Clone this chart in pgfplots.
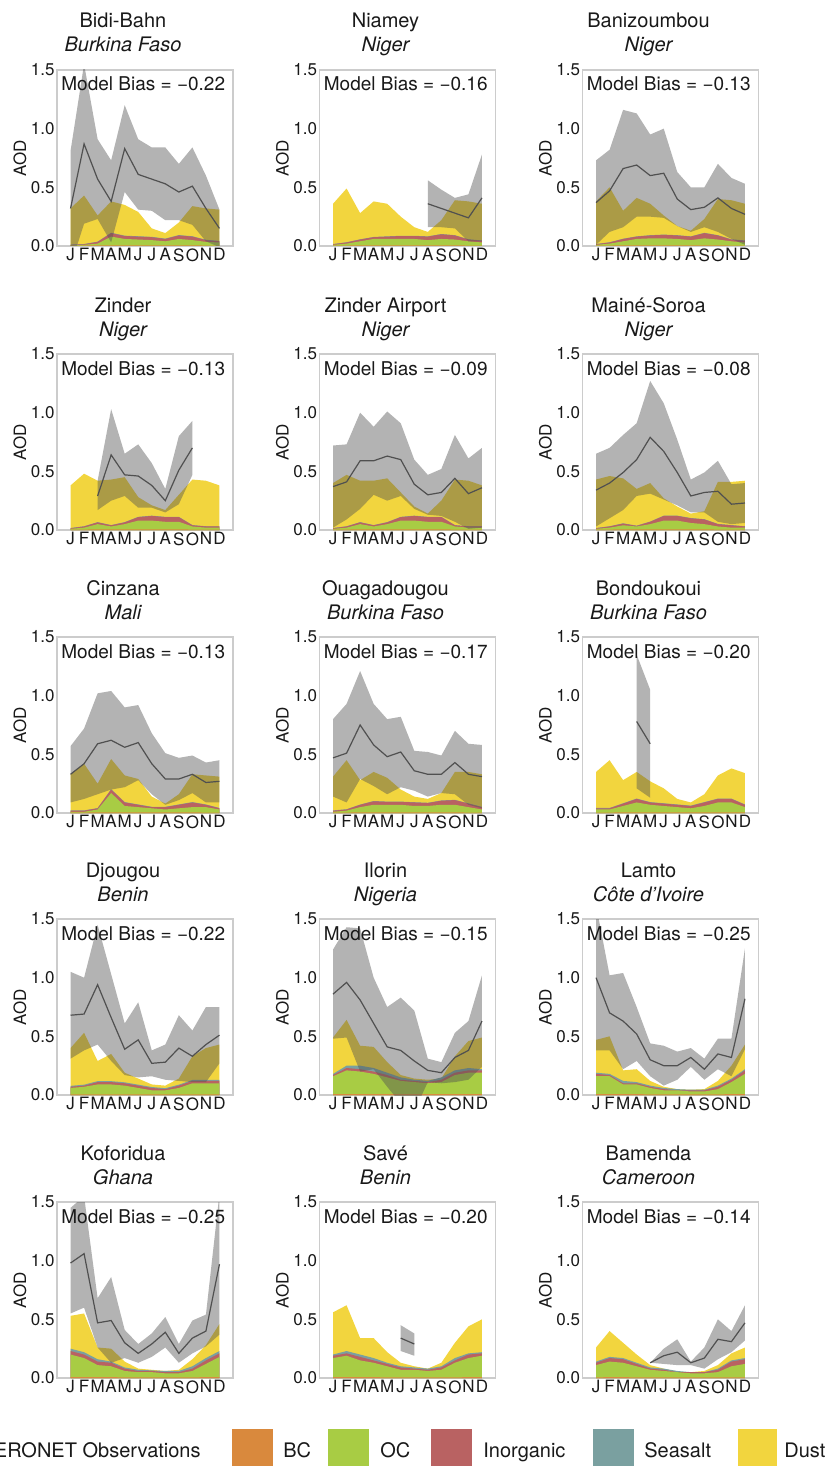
\documentclass[border=0pt]{standalone}
\usepackage{fontspec}
\setmainfont{TeX Gyre Heros}
\usepackage{pgfplots}
\usepackage{pgfplotstable}
\pgfplotsset{compat=1.18}

\definecolor{bcc}{RGB}{217,137,61}
\definecolor{occ}{RGB}{168,204,68}
\definecolor{inorgc}{RGB}{185,98,98}
\definecolor{saltc}{RGB}{122,160,160}
\definecolor{dustc}{RGB}{242,213,62}
\definecolor{bandc}{RGB}{81,81,81}
\definecolor{linec}{RGB}{80,80,80}
\definecolor{framec}{RGB}{204,204,204}
\definecolor{txt}{RGB}{25,25,25}

\newcommand\ticksize{\fontsize{8.5}{10}\selectfont}
\newcommand\titlesize{\fontsize{10}{12}\selectfont}
\newcommand\biassize{\fontsize{9.5}{11}\selectfont}
\newcommand\legsize{\fontsize{10}{12}\selectfont}

% Model components as cumulative tops: m bc oc in ss du
% AERONET: monthly mean (m mean) and the mean +/- sd band as a closed outline (m v)

% ---- Bidi-Bahn ----
\pgfplotstableread{
m bc oc in ss du
0 0.003 0.005 0.010 0.012 0.32
1 0.004 0.010 0.015 0.017 0.43
2 0.005 0.020 0.035 0.037 0.26
3 0.006 0.080 0.110 0.113 0.38
4 0.006 0.060 0.085 0.088 0.35
5 0.005 0.055 0.080 0.083 0.29
6 0.005 0.050 0.075 0.078 0.15
7 0.005 0.040 0.060 0.063 0.11
8 0.005 0.060 0.090 0.093 0.20
9 0.005 0.050 0.080 0.083 0.34
10 0.004 0.035 0.050 0.053 0.32
11 0.004 0.030 0.040 0.043 0.31
}\modA
\pgfplotstableread{
m mean
0 0.32
1 0.87
2 0.57
3 0.38
4 0.83
5 0.61
6 0.57
7 0.53
8 0.46
9 0.51
10 0.32
11 0.15
}\obsA
\pgfplotstableread{
m v
0 0.81
1 1.55
2 0.91
3 0.73
4 1.20
5 0.91
6 0.84
7 0.84
8 0.70
9 0.84
10 0.60
11 0.31
11 -0.01
10 0.04
9 0.18
8 0.22
7 0.22
6 0.30
5 0.31
4 0.46
3 0.03
2 0.23
1 0.19
0 -0.17
}\bandA

% ---- Niamey ----
\pgfplotstableread{
m bc oc in ss du
0 0.003 0.010 0.015 0.017 0.36
1 0.004 0.020 0.030 0.032 0.49
2 0.005 0.040 0.055 0.057 0.28
3 0.005 0.060 0.075 0.077 0.38
4 0.005 0.060 0.080 0.082 0.36
5 0.005 0.060 0.085 0.087 0.25
6 0.005 0.060 0.085 0.087 0.16
7 0.005 0.050 0.080 0.082 0.12
8 0.005 0.060 0.100 0.102 0.22
9 0.005 0.055 0.090 0.092 0.39
10 0.004 0.040 0.055 0.057 0.38
11 0.004 0.030 0.045 0.047 0.36
}\modB
\pgfplotstableread{
m mean
7 0.36
8 0.32
9 0.28
10 0.24
11 0.41
}\obsB
\pgfplotstableread{
m v
7 0.56
8 0.48
9 0.41
10 0.44
11 0.78
11 0.04
10 0.04
9 0.15
8 0.16
7 0.16
}\bandB

% ---- Banizoumbou ----
\pgfplotstableread{
m bc oc in ss du
0 0.003 0.010 0.015 0.017 0.38
1 0.004 0.020 0.030 0.032 0.50
2 0.005 0.040 0.060 0.062 0.30
3 0.005 0.060 0.080 0.082 0.41
4 0.005 0.065 0.090 0.092 0.36
5 0.005 0.065 0.095 0.097 0.26
6 0.005 0.060 0.090 0.092 0.17
7 0.005 0.050 0.080 0.082 0.13
8 0.005 0.065 0.110 0.112 0.23
9 0.005 0.055 0.090 0.092 0.40
10 0.004 0.040 0.055 0.057 0.39
11 0.004 0.030 0.045 0.047 0.36
}\modC
\pgfplotstableread{
m mean
0 0.37
1 0.47
2 0.66
3 0.69
4 0.60
5 0.62
6 0.40
7 0.31
8 0.33
9 0.41
10 0.32
11 0.27
}\obsC
\pgfplotstableread{
m v
0 0.73
1 0.82
2 1.16
3 1.13
4 0.95
5 1.00
6 0.63
7 0.50
8 0.50
9 0.70
10 0.58
11 0.53
11 0.01
10 0.06
9 0.12
8 0.16
7 0.12
6 0.17
5 0.24
4 0.25
3 0.25
2 0.16
1 0.12
0 0.01
}\bandC

% ---- Zinder ----
\pgfplotstableread{
m bc oc in ss du
0 0.003 0.010 0.015 0.017 0.38
1 0.004 0.020 0.030 0.032 0.48
2 0.005 0.050 0.065 0.067 0.42
3 0.005 0.030 0.040 0.042 0.43
4 0.005 0.050 0.065 0.067 0.45
5 0.005 0.080 0.110 0.112 0.28
6 0.005 0.080 0.120 0.122 0.21
7 0.005 0.070 0.110 0.112 0.17
8 0.005 0.070 0.110 0.112 0.30
9 0.004 0.030 0.040 0.042 0.43
10 0.004 0.020 0.030 0.032 0.42
11 0.004 0.020 0.030 0.032 0.38
}\modD
\pgfplotstableread{
m mean
2 0.29
3 0.64
4 0.47
5 0.46
6 0.38
7 0.25
8 0.51
9 0.70
}\obsD
\pgfplotstableread{
m v
2 0.42
3 1.03
4 0.65
5 0.73
6 0.57
7 0.35
8 0.80
9 0.93
9 0.47
8 0.22
7 0.15
6 0.19
5 0.19
4 0.29
3 0.25
2 0.17
}\bandD

% ---- Zinder Airport ----
\pgfplotstableread{
m bc oc in ss du
0 0.003 0.010 0.015 0.017 0.40
1 0.004 0.020 0.030 0.032 0.47
2 0.005 0.050 0.065 0.067 0.42
3 0.005 0.030 0.040 0.042 0.42
4 0.005 0.050 0.065 0.067 0.44
5 0.005 0.080 0.110 0.112 0.32
6 0.005 0.080 0.120 0.122 0.20
7 0.005 0.070 0.110 0.112 0.14
8 0.005 0.070 0.110 0.112 0.25
9 0.004 0.030 0.040 0.042 0.43
10 0.004 0.020 0.030 0.032 0.42
11 0.004 0.020 0.030 0.032 0.38
}\modE
\pgfplotstableread{
m mean
0 0.37
1 0.41
2 0.59
3 0.59
4 0.63
5 0.60
6 0.39
7 0.30
8 0.32
9 0.44
10 0.31
11 0.36
}\obsE
\pgfplotstableread{
m v
0 0.72
1 0.73
2 1.00
3 0.88
4 1.01
5 0.91
6 0.60
7 0.47
8 0.52
9 0.81
10 0.61
11 0.70
11 0.02
10 0.01
9 0.07
8 0.12
7 0.13
6 0.18
5 0.29
4 0.25
3 0.30
2 0.18
1 0.09
0 0.02
}\bandE

% ---- Maine-Soroa ----
\pgfplotstableread{
m bc oc in ss du
0 0.003 0.010 0.015 0.017 0.43
1 0.004 0.020 0.030 0.032 0.46
2 0.005 0.040 0.055 0.057 0.44
3 0.005 0.030 0.035 0.037 0.35
4 0.005 0.050 0.070 0.072 0.40
5 0.005 0.080 0.120 0.122 0.27
6 0.005 0.080 0.120 0.122 0.20
7 0.005 0.060 0.100 0.102 0.14
8 0.005 0.050 0.090 0.092 0.16
9 0.004 0.030 0.050 0.052 0.41
10 0.004 0.020 0.040 0.042 0.41
11 0.004 0.020 0.030 0.032 0.42
}\modF
\pgfplotstableread{
m mean
0 0.34
1 0.40
2 0.49
3 0.60
4 0.79
5 0.67
6 0.49
7 0.29
8 0.32
9 0.33
10 0.22
11 0.23
}\obsF
\pgfplotstableread{
m v
0 0.65
1 0.70
2 0.81
3 0.91
4 1.27
5 1.08
6 0.77
7 0.43
8 0.49
9 0.59
10 0.39
11 0.40
11 0.06
10 0.05
9 0.07
8 0.15
7 0.15
6 0.21
5 0.26
4 0.31
3 0.29
2 0.17
1 0.10
0 0.03
}\bandF

% ---- Cinzana ----
\pgfplotstableread{
m bc oc in ss du
0 0.003 0.010 0.020 0.022 0.33
1 0.004 0.010 0.020 0.022 0.42
2 0.005 0.030 0.040 0.042 0.25
3 0.006 0.170 0.200 0.203 0.46
4 0.005 0.060 0.090 0.093 0.32
5 0.005 0.050 0.070 0.073 0.29
6 0.005 0.040 0.050 0.053 0.14
7 0.005 0.030 0.050 0.053 0.08
8 0.005 0.040 0.070 0.073 0.16
9 0.005 0.050 0.090 0.093 0.33
10 0.004 0.050 0.070 0.073 0.32
11 0.004 0.030 0.040 0.043 0.31
}\modG
\pgfplotstableread{
m mean
0 0.33
1 0.42
2 0.59
3 0.62
4 0.56
5 0.60
6 0.42
7 0.29
8 0.29
9 0.33
10 0.26
11 0.27
}\obsG
\pgfplotstableread{
m v
0 0.57
1 0.72
2 1.02
3 1.04
4 0.90
5 0.92
6 0.68
7 0.51
8 0.47
9 0.49
10 0.43
11 0.45
11 0.09
10 0.09
9 0.17
8 0.11
7 0.07
6 0.16
5 0.28
4 0.22
3 0.20
2 0.16
1 0.12
0 0.09
}\bandG

% ---- Ouagadougou ----
\pgfplotstableread{
m bc oc in ss du
0 0.003 0.010 0.020 0.022 0.31
1 0.004 0.020 0.030 0.032 0.45
2 0.005 0.050 0.070 0.072 0.28
3 0.005 0.070 0.100 0.102 0.35
4 0.005 0.070 0.095 0.097 0.30
5 0.005 0.070 0.095 0.097 0.20
6 0.005 0.060 0.090 0.092 0.14
7 0.005 0.060 0.085 0.087 0.12
8 0.005 0.070 0.105 0.107 0.17
9 0.005 0.070 0.110 0.112 0.35
10 0.004 0.050 0.080 0.082 0.35
11 0.004 0.030 0.050 0.052 0.33
}\modH
\pgfplotstableread{
m mean
0 0.47
1 0.51
2 0.75
3 0.58
4 0.48
5 0.52
6 0.36
7 0.33
8 0.33
9 0.43
10 0.33
11 0.31
}\obsH
\pgfplotstableread{
m v
0 0.80
1 0.93
2 1.21
3 0.93
4 0.80
5 0.82
6 0.53
7 0.52
8 0.49
9 0.70
10 0.59
11 0.58
11 0.04
10 0.07
9 0.16
8 0.17
7 0.14
6 0.19
5 0.22
4 0.16
3 0.23
2 0.29
1 0.09
0 0.14
}\bandH

% ---- Bondoukoui ----
\pgfplotstableread{
m bc oc in ss du
0 0.004 0.030 0.040 0.043 0.35
1 0.004 0.030 0.040 0.043 0.45
2 0.005 0.060 0.080 0.083 0.28
3 0.006 0.090 0.120 0.123 0.35
4 0.005 0.070 0.090 0.093 0.27
5 0.005 0.060 0.080 0.083 0.21
6 0.005 0.050 0.070 0.073 0.12
7 0.005 0.040 0.060 0.063 0.09
8 0.005 0.060 0.090 0.093 0.16
9 0.006 0.090 0.120 0.123 0.32
10 0.006 0.090 0.120 0.123 0.38
11 0.005 0.050 0.070 0.073 0.34
}\modI
\pgfplotstableread{
m mean
3 0.78
4 0.59
}\obsI
\pgfplotstableread{
m v
3 1.35
4 1.05
4 0.13
3 0.21
}\bandI

% ---- Djougou ----
\pgfplotstableread{
m bc oc in ss du
0 0.005 0.060 0.070 0.078 0.40
1 0.005 0.070 0.080 0.088 0.53
2 0.006 0.090 0.110 0.118 0.29
3 0.006 0.090 0.110 0.118 0.35
4 0.006 0.080 0.100 0.108 0.19
5 0.005 0.060 0.080 0.088 0.14
6 0.005 0.040 0.060 0.068 0.09
7 0.005 0.040 0.050 0.058 0.08
8 0.005 0.060 0.080 0.088 0.14
9 0.006 0.100 0.120 0.128 0.33
10 0.006 0.100 0.120 0.128 0.40
11 0.006 0.100 0.120 0.128 0.43
}\modJ
\pgfplotstableread{
m mean
0 0.68
1 0.69
2 0.94
3 0.66
4 0.39
5 0.47
6 0.27
7 0.28
8 0.40
9 0.33
10 0.43
11 0.51
}\obsJ
\pgfplotstableread{
m v
0 1.05
1 1.00
2 1.45
3 1.03
4 0.61
5 0.79
6 0.38
7 0.43
8 0.68
9 0.55
10 0.75
11 0.75
11 0.27
10 0.11
9 0.11
8 0.12
7 0.13
6 0.16
5 0.15
4 0.17
3 0.29
2 0.43
1 0.38
0 0.31
}\bandJ

% ---- Ilorin ----
\pgfplotstableread{
m bc oc in ss du
0 0.008 0.160 0.170 0.180 0.49
1 0.008 0.210 0.230 0.250 0.64
2 0.008 0.200 0.220 0.250 0.42
3 0.008 0.180 0.200 0.230 0.41
4 0.008 0.150 0.170 0.190 0.28
5 0.007 0.120 0.130 0.150 0.17
6 0.007 0.110 0.120 0.130 0.14
7 0.007 0.100 0.110 0.120 0.13
8 0.007 0.110 0.130 0.150 0.14
9 0.008 0.170 0.190 0.210 0.33
10 0.008 0.190 0.210 0.230 0.46
11 0.008 0.190 0.210 0.220 0.49
}\modK
\pgfplotstableread{
m mean
0 0.86
1 0.96
2 0.81
3 0.61
4 0.41
5 0.38
6 0.29
7 0.21
8 0.19
9 0.32
10 0.38
11 0.63
}\obsK
\pgfplotstableread{
m v
0 1.24
1 1.43
2 1.42
3 1.00
4 0.75
5 0.83
6 0.72
7 0.31
8 0.28
9 0.53
10 0.63
11 1.02
11 0.24
10 0.13
9 0.11
8 0.10
7 0.11
6 -0.14
5 -0.07
4 0.07
3 0.22
2 0.20
1 0.49
0 0.48
}\bandK

% ---- Lamto ----
\pgfplotstableread{
m bc oc in ss du
0 0.008 0.160 0.180 0.190 0.47
1 0.008 0.160 0.170 0.180 0.50
2 0.007 0.090 0.100 0.120 0.21
3 0.007 0.090 0.100 0.110 0.22
4 0.006 0.060 0.070 0.080 0.12
5 0.005 0.040 0.050 0.060 0.07
6 0.005 0.040 0.040 0.050 0.05
7 0.005 0.030 0.040 0.045 0.045
8 0.005 0.030 0.040 0.045 0.05
9 0.006 0.050 0.070 0.080 0.12
10 0.007 0.110 0.130 0.140 0.25
11 0.008 0.180 0.210 0.220 0.43
}\modL
\pgfplotstableread{
m mean
0 1.00
1 0.70
2 0.63
3 0.52
4 0.30
5 0.25
6 0.25
7 0.32
8 0.22
9 0.35
10 0.32
11 0.82
}\obsL
\pgfplotstableread{
m v
0 1.62
1 1.02
2 1.04
3 0.75
4 0.44
5 0.42
6 0.37
7 0.40
8 0.31
9 0.48
10 0.48
11 1.25
11 0.39
10 0.16
9 0.22
8 0.13
7 0.24
6 0.13
5 0.08
4 0.16
3 0.29
2 0.22
1 0.38
0 0.38
}\bandL

% ---- Koforidua ----
\pgfplotstableread{
m bc oc in ss du
0 0.008 0.200 0.230 0.250 0.53
1 0.008 0.170 0.200 0.220 0.55
2 0.007 0.110 0.140 0.160 0.26
3 0.007 0.100 0.130 0.140 0.25
4 0.006 0.060 0.080 0.090 0.14
5 0.005 0.050 0.060 0.070 0.08
6 0.005 0.050 0.060 0.065 0.07
7 0.005 0.040 0.050 0.060 0.06
8 0.005 0.040 0.050 0.060 0.07
9 0.006 0.060 0.080 0.100 0.16
10 0.007 0.120 0.150 0.170 0.28
11 0.008 0.180 0.210 0.230 0.46
}\modM
\pgfplotstableread{
m mean
0 0.98
1 1.06
2 0.47
3 0.49
4 0.30
5 0.21
6 0.29
7 0.39
8 0.21
9 0.34
10 0.40
11 0.97
}\obsM
\pgfplotstableread{
m v
0 1.45
1 1.55
2 0.68
3 0.86
4 0.41
5 0.29
6 0.38
7 0.52
8 0.29
9 0.49
10 0.54
11 1.57
11 0.37
10 0.27
9 0.21
8 0.13
7 0.26
6 0.18
5 0.13
4 0.17
3 0.13
2 0.26
1 0.60
0 0.55
}\bandM

% ---- Save ----
\pgfplotstableread{
m bc oc in ss du
0 0.008 0.170 0.190 0.200 0.56
1 0.008 0.190 0.210 0.230 0.62
2 0.007 0.150 0.180 0.200 0.34
3 0.007 0.130 0.150 0.170 0.34
4 0.006 0.100 0.120 0.130 0.22
5 0.005 0.070 0.090 0.100 0.13
6 0.005 0.070 0.080 0.090 0.10
7 0.005 0.060 0.070 0.080 0.08
8 0.005 0.070 0.090 0.100 0.13
9 0.006 0.130 0.150 0.170 0.30
10 0.007 0.170 0.200 0.210 0.44
11 0.008 0.190 0.210 0.220 0.50
}\modN
\pgfplotstableread{
m mean
5 0.34
6 0.29
}\obsN
\pgfplotstableread{
m v
5 0.45
6 0.38
6 0.19
5 0.23
}\bandN

% ---- Bamenda ----
\pgfplotstableread{
m bc oc in ss du
0 0.006 0.110 0.130 0.140 0.26
1 0.007 0.140 0.170 0.180 0.40
2 0.007 0.130 0.160 0.170 0.30
3 0.006 0.100 0.120 0.130 0.20
4 0.005 0.070 0.080 0.090 0.11
5 0.005 0.060 0.070 0.080 0.08
6 0.005 0.050 0.050 0.060 0.05
7 0.005 0.040 0.050 0.050 0.05
8 0.005 0.040 0.050 0.050 0.06
9 0.005 0.050 0.070 0.080 0.11
10 0.006 0.100 0.140 0.150 0.21
11 0.006 0.120 0.160 0.170 0.26
}\modO
\pgfplotstableread{
m mean
4 0.13
5 0.19
6 0.22
7 0.13
8 0.17
9 0.33
10 0.31
11 0.47
}\obsO
\pgfplotstableread{
m v
4 0.13
5 0.25
6 0.33
7 0.14
8 0.26
9 0.50
10 0.40
11 0.62
11 0.32
10 0.22
9 0.16
8 0.08
7 0.11
6 0.11
5 0.12
4 0.13
}\bandO

\pgfplotsset{
  panel/.style={
    scale only axis, width=88pt, height=88pt,
    xmin=-1, xmax=12, ymin=0, ymax=1.5,
    xtick={0,...,11}, xticklabels={J,F,M,A,M,J,J,A,S,O,N,D},
    ytick={0,0.5,1,1.5}, yticklabels={0.0,0.5,1.0,1.5},
    major tick length=0pt,
    axis line style={draw=framec, line width=0.6pt},
    tick label style={font=\ticksize, text=txt},
    xticklabel style={inner sep=0pt, yshift=-1pt},
    yticklabel style={inner sep=0pt, xshift=-1pt},
    /pgf/number format/assume math mode=true,
  },
  comp/.style={draw=none, fill=#1},
  obsfill/.style={draw=none, fill=bandc, fill opacity=0.44},
  obsline/.style={linec, line width=0.6pt},
}

% one station panel: #1 left (px), #2 top (px), #3 model table, #4 AERONET mean,
% #5 AERONET band outline, #6 station, #7 country, #8 model bias   (1 px = 0.5 pt)
\newcommand{\panel}[8]{%
  \begin{axis}[panel, at={({#1*0.5pt},{-#2*0.5pt})}, anchor=north west]
    \addplot[comp=dustc]  table[x=m,y=du] {#3} \closedcycle;
    \addplot[comp=saltc]  table[x=m,y=ss] {#3} \closedcycle;
    \addplot[comp=inorgc] table[x=m,y=in] {#3} \closedcycle;
    \addplot[comp=occ]    table[x=m,y=oc] {#3} \closedcycle;
    \addplot[comp=bcc]    table[x=m,y=bc] {#3} \closedcycle;
    \addplot[obsfill] table[x=m,y=v] {#5};
    \addplot[obsline] table[x=m,y=mean] {#4};
  \end{axis}
  \begin{scope}[x=0.5pt, y=0.5pt]
    \node[font=\titlesize, text=txt, anchor=base] at ({#1+66},{42-#2}) {#6};
    \node[font=\titlesize\itshape, text=txt, anchor=base] at ({#1+66},{18-#2}) {#7};
    \node[font=\biassize, text=txt, anchor=base west, inner sep=0pt] at ({#1+4},{-#2-21}) {Model Bias = −#8};
    \node[font=\ticksize, text=txt, rotate=90] at ({#1-37},{-#2-88}) {AOD};
  \end{scope}
}

\begin{document}
\begin{tikzpicture}
  \panel{57}{70}{\modA}{\obsA}{\bandA}{Bidi-Bahn}{Burkina Faso}{0.22}
  \panel{319.5}{70}{\modB}{\obsB}{\bandB}{Niamey}{Niger}{0.16}
  \panel{582.5}{70}{\modC}{\obsC}{\bandC}{Banizoumbou}{Niger}{0.13}

  \panel{57}{354}{\modD}{\obsD}{\bandD}{Zinder}{Niger}{0.13}
  \panel{319.5}{354}{\modE}{\obsE}{\bandE}{Zinder Airport}{Niger}{0.09}
  \panel{582.5}{354}{\modF}{\obsF}{\bandF}{Mainé-Soroa}{Niger}{0.08}

  \panel{57}{637}{\modG}{\obsG}{\bandG}{Cinzana}{Mali}{0.13}
  \panel{319.5}{637}{\modH}{\obsH}{\bandH}{Ouagadougou}{Burkina Faso}{0.17}
  \panel{582.5}{637}{\modI}{\obsI}{\bandI}{Bondoukoui}{Burkina Faso}{0.20}

  \panel{57}{919}{\modJ}{\obsJ}{\bandJ}{Djougou}{Benin}{0.22}
  \panel{319.5}{919}{\modK}{\obsK}{\bandK}{Ilorin}{Nigeria}{0.15}
  \panel{582.5}{919}{\modL}{\obsL}{\bandL}{Lamto}{Côte d’Ivoire}{0.25}

  \panel{57}{1202}{\modM}{\obsM}{\bandM}{Koforidua}{Ghana}{0.25}
  \panel{319.5}{1202}{\modN}{\obsN}{\bandN}{Savé}{Benin}{0.20}
  \panel{582.5}{1202}{\modO}{\obsO}{\bandO}{Bamenda}{Cameroon}{0.14}

  % legend along the bottom edge
  \begin{scope}[x=0.5pt, y=0.5pt, font=\legsize, text=txt]
    \node[anchor=base east, inner sep=0pt] at (201,-1457) {AERONET Observations};
    \fill[bcc]    (232,-1429) rectangle (273,-1470);
    \node[anchor=base west, inner sep=0pt] at (283,-1457) {BC};
    \fill[occ]    (328,-1429) rectangle (369,-1470);
    \node[anchor=base west, inner sep=0pt] at (380,-1457) {OC};
    \fill[inorgc] (431,-1429) rectangle (472,-1470);
    \node[anchor=base west, inner sep=0pt] at (483,-1457) {Inorganic};
    \fill[saltc]  (593,-1429) rectangle (634,-1470);
    \node[anchor=base west, inner sep=0pt] at (644,-1457) {Seasalt};
    \fill[dustc]  (738,-1429) rectangle (777,-1470);
    \node[anchor=base west, inner sep=0pt] at (784,-1457) {Dust};
  \end{scope}

  \pgfresetboundingbox
  \path[use as bounding box] (0,0) rectangle (415pt,-733pt);
\end{tikzpicture}
\end{document}
